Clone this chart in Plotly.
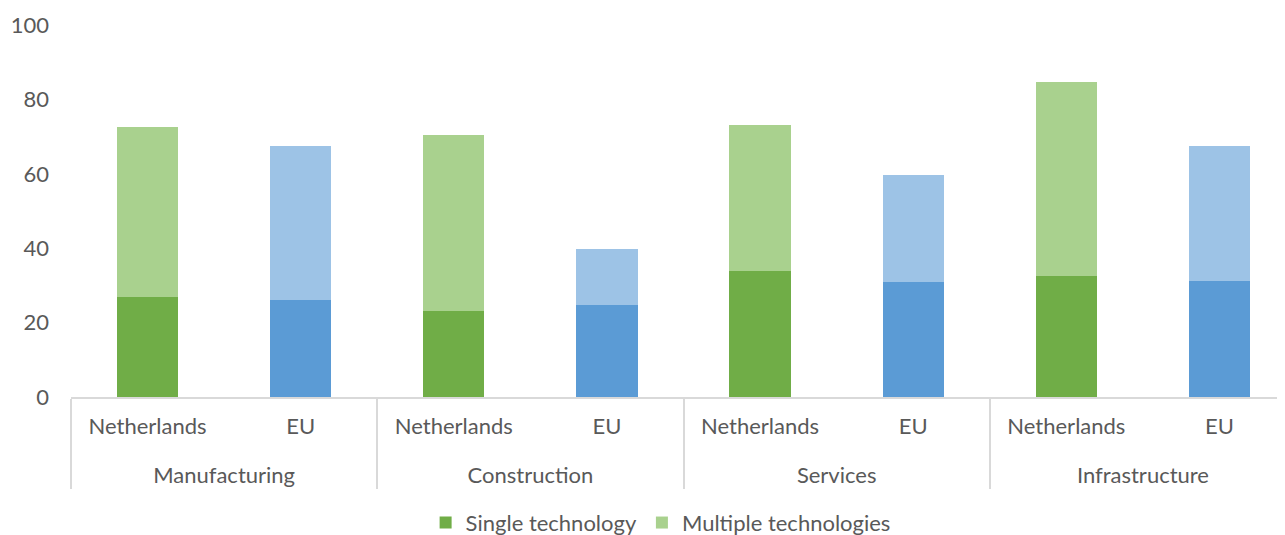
import plotly.graph_objects as go

sectors = ["Manufacturing", "Manufacturing", "Construction", "Construction",
           "Services", "Services", "Infrastructure", "Infrastructure"]
regions = ["Netherlands", "EU", "Netherlands", "EU", "Netherlands", "EU", "Netherlands", "EU"]
single_tech = [27.0, 26.1, 23.2, 24.8, 34.0, 31.0, 32.4, 31.3]
total_tech = [72.7, 67.4, 70.5, 39.9, 73.0, 59.8, 84.8, 67.6]
multiple_tech = [round(t - s, 1) for t, s in zip(total_tech, single_tech)]

single_colors = ["#70AD47" if r == "Netherlands" else "#5B9BD5" for r in regions]
multi_colors = ["#A9D18E" if r == "Netherlands" else "#9DC3E6" for r in regions]

FONT = "Lato"
TXT = "#595959"
FS = 22

# outer level labels pushed one line lower, as in the reference
outer = ["<br>" + s for s in sectors]

fig = go.Figure()
fig.add_trace(go.Bar(x=[outer, regions], y=single_tech, name="Single technology",
                     marker=dict(color=single_colors, line=dict(width=0))))
fig.add_trace(go.Bar(x=[outer, regions], y=multiple_tech, name="Multiple technologies",
                     marker=dict(color=multi_colors, line=dict(width=0))))

fig.update_layout(
    width=1285, height=535,
    barmode="stack", bargap=0.6,
    plot_bgcolor="white", paper_bgcolor="white",
    margin=dict(l=63, r=0, t=17, b=146, autoexpand=False),
    font=dict(family=FONT, size=FS, color=TXT),
    showlegend=True,
    legend=dict(orientation="h", x=0.4825, xanchor="center", y=-0.338, yanchor="middle",
                font=dict(family=FONT, size=FS, color=TXT), itemwidth=30,
                traceorder="normal"),
    xaxis=dict(type="multicategory", range=[-0.5, 7.48], showline=True, linecolor="#D9D9D9",
               linewidth=1.5, showgrid=False, ticks="", showdividers=True,
               dividercolor="#D9D9D9", dividerwidth=1.5, automargin=False,
               ticklabelstandoff=9,
               tickfont=dict(family=FONT, size=FS, color=TXT)),
    yaxis=dict(range=[0, 100], tickvals=[0, 20, 40, 60, 80, 100], showgrid=False,
               zeroline=False, showline=False, ticks="", ticklabelstandoff=21,
               automargin=False,
               tickfont=dict(family=FONT, size=FS, color=TXT)),
)

fig.write_html("out.html")
